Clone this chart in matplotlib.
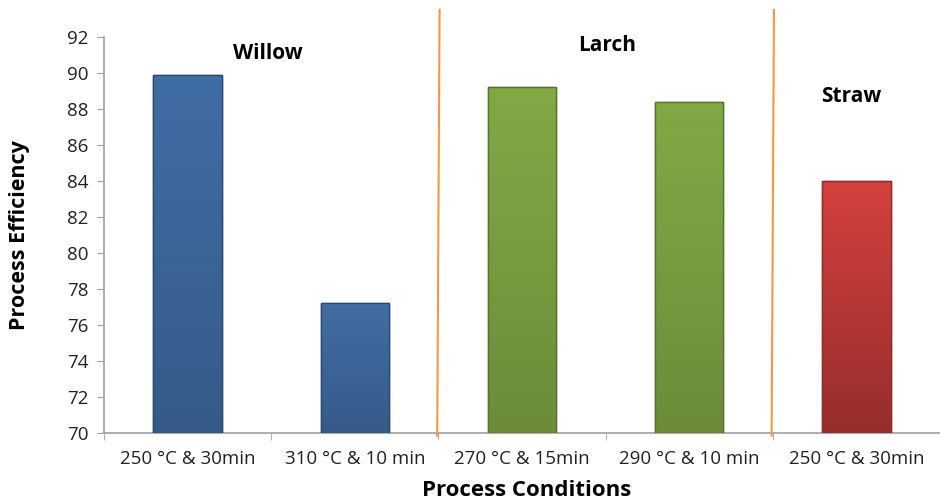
import matplotlib.pyplot as plt
import matplotlib.colors as mcolors
import numpy as np

conditions = ['250 °C & 30min', '310 °C & 10 min', '270 °C & 15min',
              '290 °C & 10 min', '250 °C & 30min']
efficiency = [89.9, 77.2, 89.25, 88.4, 84.0]
bar_colors = ['#3d679c', '#3d679c', '#7b9f41', '#7b9f41', '#c83d3b']
shade = [0.12, 0.12, 0.12, 0.12, 0.25]  # how much darker the bar foot gets
groups = ['Willow', 'Larch', 'Straw']

plt.rcParams['font.family'] = ['Open Sans', 'DejaVu Sans']

fig = plt.figure(figsize=(9.4, 5.03), dpi=100)
ax = fig.add_axes([104 / 940, 70 / 503, 836 / 940, 396 / 503])

ax.set_xlim(-0.5, 4.448)
ax.set_ylim(70, 92)
ymin = ax.get_ylim()[0]

x = np.arange(len(conditions))
bars = ax.bar(x, efficiency, width=0.41, color=bar_colors, zorder=3)

# soft vertical shading on each bar, a bit like the excel bevel
for b, c, k in zip(bars, bar_colors, shade):
    rgb = np.array(mcolors.to_rgb(c))
    top = np.clip(rgb * 1.06, 0, 1)
    bot = rgb * (1 - k)
    t = np.linspace(0, 1, 64)[:, None]
    grad = top * (1 - t[..., None]) + bot * t[..., None]
    grad = np.repeat(grad, 2, axis=1)
    x0, h = b.get_x(), b.get_y() + b.get_height()
    im = ax.imshow(grad, extent=[x0, x0 + b.get_width(), ymin, h],
                   aspect='auto', origin='upper', zorder=3.5)
    im.set_clip_path(b)
    edge = mcolors.to_hex(rgb * 0.72)
    b.set_edgecolor(edge)
    ax.add_patch(plt.Rectangle((x0, ymin), b.get_width(), h - ymin,
                               fill=False, edgecolor=edge,
                               linewidth=1.0, zorder=3.6))

ax.set_xlim(-0.5, 4.448)
ax.set_ylim(70, 92)
ax.set_yticks(np.arange(70, 93, 2))
ax.set_xticks(x)
ax.set_xticklabels(conditions, fontsize=13.5, color='#222222')
ax.set_xticks(np.arange(-0.5, 5, 1), minor=True)
ax.tick_params(axis='x', which='major', length=0, pad=12)
ax.tick_params(axis='x', which='minor', length=5, color='#a0a0a0')
ax.tick_params(axis='y', length=5, color='#a0a0a0', labelsize=13.5,
               labelcolor='#222222', pad=6)

for s in ['top', 'right']:
    ax.spines[s].set_visible(False)
for s in ['left', 'bottom']:
    ax.spines[s].set_color('#a0a0a0')
    ax.spines[s].set_linewidth(1.2)

# group separators
for xs in [1.5, 3.5]:
    ax.plot([xs + 0.007, xs - 0.007], [93.5, 69.85], color='#f79646',
            linewidth=1.5, clip_on=False, zorder=4)

ax.text(0.48, 91.1, groups[0], ha='center', va='center',
        fontsize=15, fontweight='bold')
ax.text(2.51, 91.55, groups[1], ha='center', va='center',
        fontsize=15, fontweight='bold')
ax.text(3.97, 88.67, groups[2], ha='center', va='center',
        fontsize=15, fontweight='bold')

ax.set_ylabel('Process Efficiency', fontsize=15.5, fontweight='bold')
ax.set_xlabel('Process Conditions', fontsize=16, fontweight='bold')
ax.xaxis.set_label_coords((527 - 104) / 836, -0.118)
ax.yaxis.set_label_coords(-(104 - 30) / 836, 0.5)

fig.savefig('out.png', dpi=100)
